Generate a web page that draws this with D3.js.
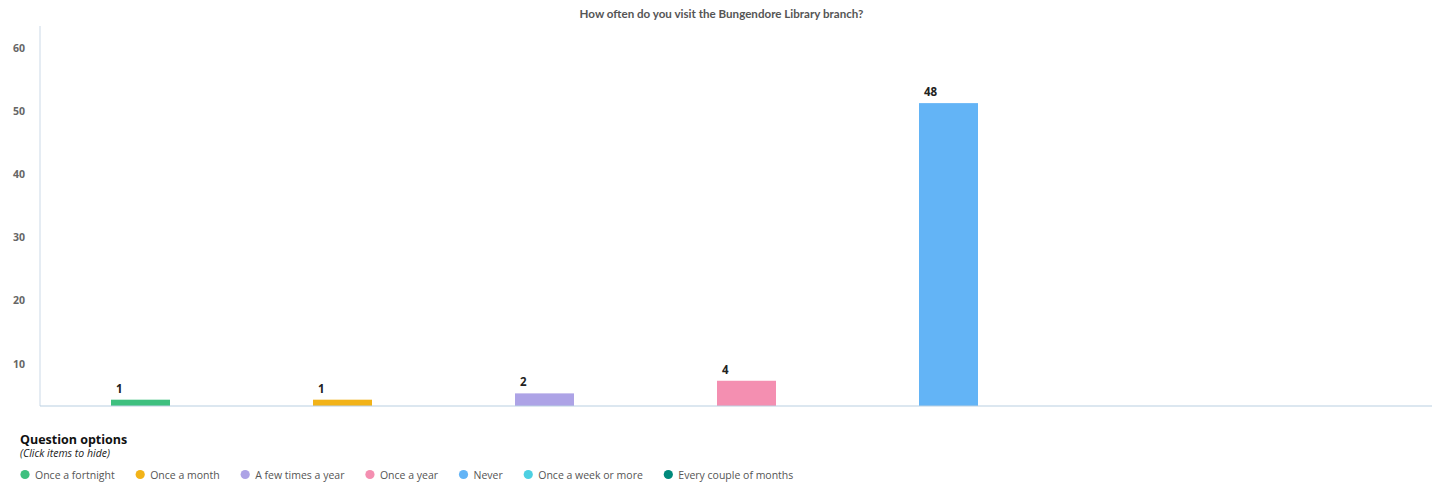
<!DOCTYPE html>
<html>
<head>
<meta charset="utf-8">
<script src="https://cdn.jsdelivr.net/npm/d3@7"></script>
<style>
  html, body { margin: 0; padding: 0; background: #fff; }
  svg { display: block; }
</style>
</head>
<body>
<svg id="chart" width="1433" height="485"></svg>
<script>
// Survey responses for the Bungendore branch
const categories = ["Once a fortnight", "Once a month", "A few times a year", "Once a year", "Never", "Once a week or more", "Every couple of months"];
const counts = [1, 1, 2, 4, 48, 0, 0];
const colors = ["#3ec07f", "#f2b318", "#ada3e6", "#f48fb1", "#63b4f6", "#4dd0e2", "#00897b"];
const yTicks = [10, 20, 30, 40, 50, 60];
const title = "How often do you visit the Bungendore Library branch?";

const svg = d3.select("#chart");

const axisX = 40, baseY = 406, topY = 26;
const step = 202;

const x = d3.scaleBand()
  .domain(categories)
  .range([39.5, 39.5 + step * categories.length])
  .paddingInner(0.708)
  .paddingOuter(0.354);

// value scale for bar heights
const y = d3.scaleLinear().domain([0, 60]).range([baseY, baseY - 6.31 * 60]);
// tick labels sit on a scale whose zero lies below the baseline
const yTickScale = y.copy().range([baseY + 20.5, baseY + 20.5 - 6.31 * 60]);

// title
svg.append("text")
  .attr("x", 721.5).attr("y", 18)
  .attr("text-anchor", "middle")
  .style("font-family", "Lato, 'Open Sans', sans-serif")
  .style("font-weight", "bold")
  .style("font-size", "11.6px")
  .style("fill", "#555")
  .text(title);

// y axis line
svg.append("line")
  .attr("x1", axisX).attr("x2", axisX)
  .attr("y1", topY).attr("y2", baseY)
  .attr("stroke", "#dde6ef").attr("stroke-width", 1.5);

// y tick labels
const yAxis = d3.axisLeft(yTickScale).tickValues(yTicks).tickSize(0).tickPadding(0);
const gy = svg.append("g").attr("transform", "translate(19,0)").call(yAxis);
gy.select(".domain").remove();
gy.selectAll("text")
  .attr("text-anchor", "middle")
  .attr("dy", "0.35em")
  .style("font-family", "'Open Sans', sans-serif")
  .style("font-weight", "bold")
  .style("font-size", "10.5px")
  .style("fill", "#666");

// bars
const data = categories.map((c, i) => ({ c, v: counts[i], col: colors[i] }));
svg.append("g").selectAll("rect")
  .data(data.filter(d => d.v > 0))
  .join("rect")
  .attr("x", d => x(d.c))
  .attr("width", x.bandwidth())
  .attr("y", d => y(d.v))
  .attr("height", d => y(0) - y(d.v))
  .attr("fill", d => d.col);

// value labels
svg.append("g").selectAll("text")
  .data(data.filter(d => d.v > 0))
  .join("text")
  .attr("x", d => x(d.c) + 5)
  .attr("y", d => y(d.v) - 7)
  .attr("text-anchor", "start")
  .style("font-family", "'Open Sans', sans-serif")
  .style("font-weight", "bold")
  .style("font-size", "11.5px")
  .style("fill", "#222")
  .text(d => d.v);

// x baseline
svg.append("line")
  .attr("x1", axisX).attr("x2", 1432)
  .attr("y1", baseY).attr("y2", baseY)
  .attr("stroke", "#b9cfe2").attr("stroke-width", 1.2);

// legend
svg.append("text")
  .attr("x", 20).attr("y", 444)
  .style("font-family", "'Open Sans', sans-serif")
  .style("font-weight", "bold")
  .style("font-size", "12.5px")
  .style("fill", "#111")
  .text("Question options");
svg.append("text")
  .attr("x", 20).attr("y", 457)
  .style("font-family", "'Open Sans', sans-serif")
  .style("font-style", "italic")
  .style("font-size", "10.5px")
  .style("fill", "#222")
  .text("(Click items to hide)");

const legend = svg.append("g");
let lx = 25;
categories.forEach((c, i) => {
  legend.append("circle")
    .attr("cx", lx).attr("cy", 474.5).attr("r", 4.6)
    .attr("fill", colors[i]);
  const t = legend.append("text")
    .attr("x", lx + 10).attr("y", 478.5)
    .style("font-family", "'Open Sans', sans-serif")
    .style("font-size", "10.5px")
    .style("fill", "#555")
    .text(c);
  lx = lx + 10 + t.node().getComputedTextLength() + 25.5;
});
</script>
</body>
</html>
